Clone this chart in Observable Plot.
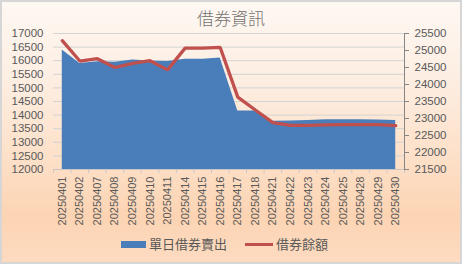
<!DOCTYPE html>
<html><head><meta charset="utf-8">
<script src="https://cdn.jsdelivr.net/npm/d3@7"></script>
<script src="https://cdn.jsdelivr.net/npm/@observablehq/plot@0.6"></script>
<style>
html,body{margin:0;padding:0;background:#fff;}
#chart{position:relative;width:462px;height:264px;overflow:hidden;
 background:linear-gradient(180deg,#fef8f3 0%,#fdeee2 30%,#fde0c8 60%,#fcd4b3 82%,#fddbc1 100%);}
#frame{position:absolute;left:0;top:0;width:462px;height:264px;box-sizing:border-box;border:2px solid #d6d6d6;pointer-events:none;}
#title{position:absolute;left:0;width:462px;top:5px;text-align:center;font-family:"Noto Sans CJK TC",sans-serif;font-weight:300;font-size:17px;color:#737373;line-height:26px;}
#plot{position:absolute;left:0;top:0;}
.lg{position:absolute;font-family:"Noto Sans CJK TC",sans-serif;font-size:13px;color:#595959;line-height:16px;top:236px;}
</style></head>
<body>
<div id="chart">
 <div id="plot"></div>
 <div id="title">借券資訊</div>
 <div id="legend"></div>
 <div id="frame"></div>
</div>
<script>
const dates = ["20250401","20250402","20250407","20250408","20250409","20250410","20250411","20250414","20250415","20250416","20250417","20250418","20250421","20250422","20250423","20250424","20250425","20250428","20250429","20250430"];
const dailySell = [16390,15900,15960,15940,16025,15990,15975,16050,16055,16100,14150,14150,13770,13780,13800,13830,13830,13830,13820,13800];
const balance = [25290,24690,24760,24500,24620,24700,24430,25070,25070,25090,23630,23250,22880,22800,22800,22810,22820,22820,22820,22790];
const leftTicks = [12000,12500,13000,13500,14000,14500,15000,15500,16000,16500,17000];
const rightTicks = [21500,22000,22500,23000,23500,24000,24500,25000,25500];
const seriesNames = ["單日借券賣出","借券餘額"];
const colors = ["#4a7ebb","#c0504d"];

// right axis [21500,25500] mapped onto left scale [12000,17000]
const toL = v => 12000 + (v - 21500) * 1.25;
const fromL = v => 21500 + (v - 12000) / 1.25;

const rows = dates.map((d, i) => ({i, d, s: dailySell[i], b: toL(balance[i])}));
const idx = d3.range(dates.length);
const bounds = d3.range(dates.length + 1).map(i => i - 0.5);

const chart = Plot.plot({
  width: 462, height: 232,
  marginTop: 33, marginBottom: 63, marginLeft: 53, marginRight: 58,
  style: {background: "transparent", fontFamily: "Liberation Sans, sans-serif", fontSize: "11px", color: "#595959", overflow: "visible"},
  x: {type: "linear", domain: [-0.5, dates.length - 0.5], label: null},
  y: {domain: [12000, 17000], label: null},
  marks: [
    Plot.gridY(leftTicks, {stroke: "#d3d3d3", strokeOpacity: 1, strokeWidth: 1}),
    Plot.areaY(rows, {x: "i", y1: 12000, y2: "s", fill: colors[0]}),
    Plot.lineY(rows, {x: "i", y: "b", stroke: colors[1], strokeWidth: 3.3, strokeLinejoin: "miter"}),
    Plot.ruleY([12000], {stroke: "#c6c6c6"}),
    Plot.axisX(bounds, {tickSize: 4, tickFormat: () => "", stroke: "#c6c6c6"}),
    Plot.axisX(idx, {tickSize: 0, tickPadding: 7, tickRotate: -90, tickFormat: i => dates[i], fill: "#595959", fontSize: 11}),
    Plot.axisY(leftTicks, {anchor: "left", tickSize: 0, tickPadding: 10, tickFormat: d => String(d), fill: "#595959", fontSize: 11.5}),
    Plot.axisY(rightTicks.map(toL), {anchor: "right", tickSize: 4, tickPadding: 6, stroke: "#868686", tickFormat: d => String(Math.round(fromL(d))), fill: "#595959", fontSize: 11.5}),
    Plot.frame({anchor: "right", stroke: "#868686"})
  ]
});
document.getElementById("plot").appendChild(chart);

const lg = document.getElementById("legend");
lg.innerHTML =
  `<div style="position:absolute;left:121px;top:241px;width:25px;height:7px;background:${colors[0]}"></div>` +
  `<div class="lg" style="left:149px">${seriesNames[0]}</div>` +
  `<div style="position:absolute;left:245px;top:243px;width:28px;height:3px;background:${colors[1]}"></div>` +
  `<div class="lg" style="left:276px">${seriesNames[1]}</div>`;
</script>
</body></html>
